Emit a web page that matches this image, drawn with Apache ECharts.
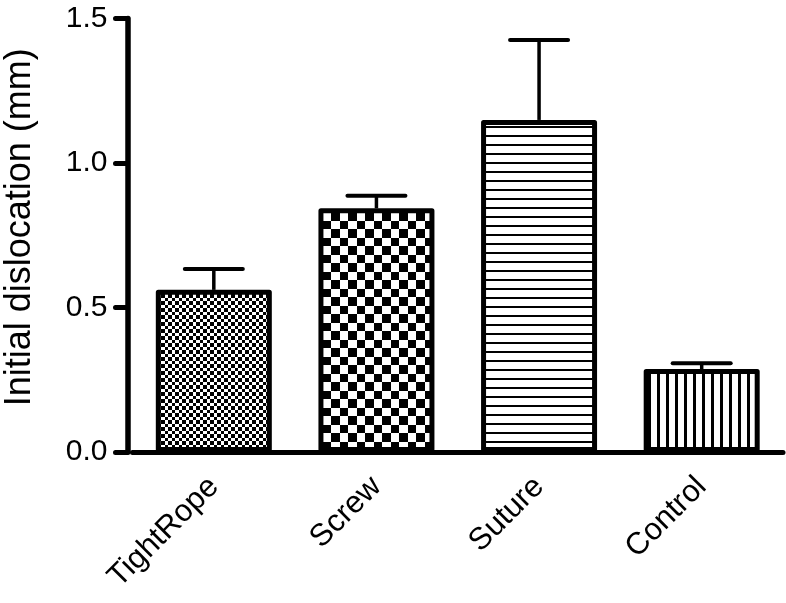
<!DOCTYPE html>
<html>
<head>
<meta charset="utf-8">
<script src="https://cdn.jsdelivr.net/npm/echarts@6/dist/echarts.min.js"></script>
<style>html,body{margin:0;padding:0;background:#fff}#c{width:786px;height:603px}</style>
</head>
<body>
<div id="c"></div>
<script>
var categories = ['TightRope', 'Screw', 'Suture', 'Control'];
var means = [0.561, 0.843, 1.149, 0.287];
var sems = [0.072, 0.044, 0.277, 0.020];
var yTicks = [0.0, 0.5, 1.0, 1.5];

function checker(a, b) {
  var c = document.createElement('canvas');
  c.width = a + b; c.height = a + b;
  var g = c.getContext('2d');
  g.fillStyle = '#fff'; g.fillRect(0, 0, c.width, c.height);
  g.fillStyle = '#000';
  g.fillRect(0, 0, a, a);
  g.fillRect(a, a, b, b);
  return c;
}
function hlines(space, thick) {
  var c = document.createElement('canvas');
  c.width = 4; c.height = space;
  var g = c.getContext('2d');
  g.fillStyle = '#fff'; g.fillRect(0, 0, c.width, c.height);
  g.fillStyle = '#000'; g.fillRect(0, 0, c.width, thick);
  return c;
}
function vlines(space, thick) {
  var c = document.createElement('canvas');
  c.width = space; c.height = 4;
  var g = c.getContext('2d');
  g.fillStyle = '#fff'; g.fillRect(0, 0, c.width, c.height);
  g.fillStyle = '#000'; g.fillRect(0, 0, thick, c.height);
  return c;
}
var patterns = [checker(4, 3), checker(8, 9), hlines(9, 2), vlines(9, 3)];

var font = "'Liberation Sans', Arial, Helvetica, sans-serif";
var chart = echarts.init(document.getElementById('c'));
chart.setOption({
  animation: false,
  backgroundColor: '#fff',
  grid: { left: 132.5, right: 3, top: 18.5, bottom: 151, containLabel: false, outerBoundsMode: 'none' },
  xAxis: {
    type: 'category',
    data: categories,
    axisLine: { lineStyle: { color: '#000', width: 5, cap: 'round' } },
    axisTick: { alignWithLabel: true, length: 14, lineStyle: { color: '#000', width: 5, cap: 'round' } },
    axisLabel: { rotate: 45, color: '#000', fontSize: 31, fontFamily: font, margin: 30, interval: 0 }
  },
  yAxis: {
    type: 'value',
    min: 0, max: 1.5, interval: 0.5,
    offset: 5,
    name: 'Initial dislocation (mm)',
    nameLocation: 'middle',
    nameGap: 89,
    nameTextStyle: { color: '#000', fontSize: 36, fontFamily: font, padding: [0, 0, 0, 16] },
    axisLine: { show: true, lineStyle: { color: '#000', width: 5.5, cap: 'round' } },
    axisTick: { show: true, length: 12, lineStyle: { color: '#000', width: 5, cap: 'round' } },
    axisLabel: { color: '#000', fontSize: 30, fontFamily: font, margin: 20,
      formatter: function (v) { return v.toFixed(1); } },
    splitLine: { show: false }
  },
  series: [
    {
      type: 'bar',
      barWidth: 116,
      data: means.map(function (v, i) {
        return { value: v, itemStyle: { color: { image: patterns[i], repeat: 'repeat' } } };
      }),
      itemStyle: { borderColor: '#000', borderWidth: 5, borderJoin: 'round' },
      z: 2
    },
    {
      type: 'custom',
      data: means.map(function (v, i) { return [i, v, v + sems[i]]; }),
      renderItem: function (params, api) {
        var i = api.value(0);
        var p0 = api.coord([i, api.value(1)]);
        var p1 = api.coord([i, api.value(2)]);
        var hw = 29;
        return {
          type: 'group',
          children: [
            { type: 'line', shape: { x1: p0[0], y1: p0[1], x2: p1[0], y2: p1[1] },
              style: { stroke: '#000', lineWidth: 3.5 } },
            { type: 'line', shape: { x1: p1[0] - hw, y1: p1[1], x2: p1[0] + hw, y2: p1[1] },
              style: { stroke: '#000', lineWidth: 4, lineCap: 'round' } }
          ]
        };
      },
      z: 1
    }
  ]
});
</script>
</body>
</html>
